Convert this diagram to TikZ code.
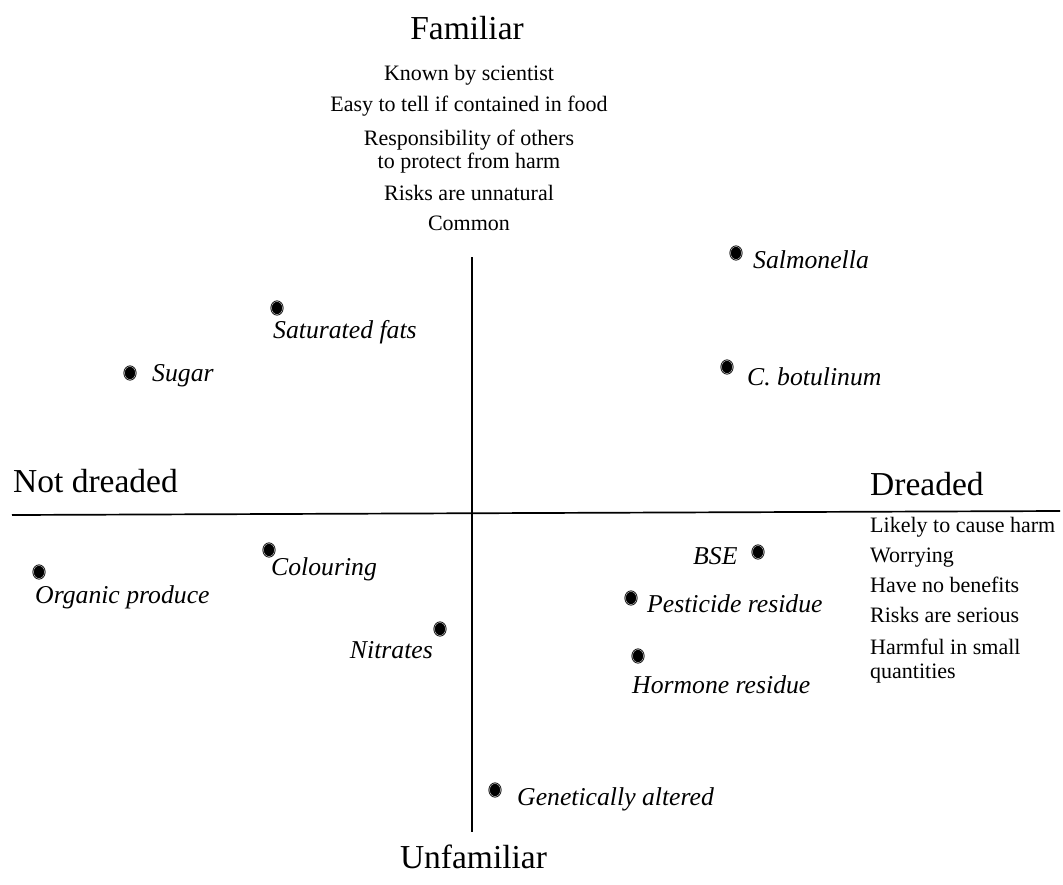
\documentclass[tikz,border=0pt]{standalone}
\usepackage{fontspec}
\setmainfont{Liberation Serif}
\usetikzlibrary{shapes.geometric}
\begin{document}
\begin{tikzpicture}[x=1pt,y=-1pt,
  axislabel/.style={font=\fontsize{33.5}{40}\selectfont, inner sep=0pt, anchor=base},
  note/.style={font=\fontsize{22}{26}\selectfont, inner sep=0pt, anchor=base},
  sidenote/.style={note, anchor=base west},
  item/.style={font=\fontsize{25.7}{30}\selectfont\itshape, inner sep=0pt, anchor=base west},
  riskdot/.style={shape=ellipse, minimum width=11pt, minimum height=13pt, inner sep=0pt,
    fill=black, draw=black, line width=0.8pt, double=gray!45, double distance=0.5pt},
  axisline/.style={line width=1.7pt, black}]
\useasboundingbox (0,0) rectangle (1063,884);

% axes
\coordinate (vtop) at (472,257);
\coordinate (vbot) at (472,832);
\coordinate (hleft) at (12,515);
\coordinate (hright) at (1060,511);
\draw[axisline] (vtop) -- (vbot);
\draw[axisline] (hleft) -- (hright);

% vertical axis: familiar / unfamiliar
\node[axislabel] (familiar) at (467,39) {Familiar};
\node[note] (f1) at (469,80) {Known by scientist};
\node[note] (f2) at (469,111) {Easy to tell if contained in food};
\node[note] (f3) at (469,145) {Responsibility of others};
\node[note] (f4) at (469,168) {to protect from harm};
\node[note] (f5) at (469,200) {Risks are unnatural};
\node[note] (f6) at (469,230) {Common};
\node[axislabel] (unfamiliar) at (473.5,868) {Unfamiliar};

% horizontal axis: not dreaded / dreaded
\node[axislabel, anchor=base west] (notdreaded) at (13,492) {Not dreaded};
\node[axislabel, anchor=base west] (dreaded) at (870,495) {Dreaded};
\node[sidenote] (d1) at (870,532) {Likely to cause harm};
\node[sidenote] (d2) at (870,562) {Worrying};
\node[sidenote] (d3) at (870,592) {Have no benefits};
\node[sidenote] (d4) at (870,622) {Risks are serious};
\node[sidenote] (d5) at (870,654) {Harmful in small};
\node[sidenote] (d6) at (870,678) {quantities};

% food hazards
\node[riskdot] (salmonellaDot) at (736,253) {};
\node[item] (salmonella) at (753,268) {Salmonella};

\node[riskdot] (satfatsDot) at (277,308) {};
\node[item] (satfats) at (273,338) {Saturated fats};

\node[riskdot] (sugarDot) at (130,373) {};
\node[item] (sugar) at (152,381) {Sugar};

\node[riskdot] (botulinumDot) at (727,367) {};
\node[item] (botulinum) at (747,385) {C. botulinum};

\node[riskdot] (bseDot) at (758,552) {};
\node[item] (bse) at (693,564) {BSE};

\node[riskdot] (colouringDot) at (269,550) {};
\node[item] (colouring) at (271,575) {Colouring};

\node[riskdot] (organicDot) at (39,572) {};
\node[item] (organic) at (35,603) {Organic produce};

\node[riskdot] (pesticideDot) at (631,598) {};
\node[item] (pesticide) at (647,612) {Pesticide residue};

\node[riskdot] (nitratesDot) at (440,629) {};
\node[item, anchor=base east] (nitrates) at (433,658) {Nitrates};

\node[riskdot] (hormoneDot) at (638,656) {};
\node[item] (hormone) at (632,693) {Hormone residue};

\node[riskdot] (geneticDot) at (495,790) {};
\node[item] (genetic) at (517,805) {Genetically altered};
\end{tikzpicture}
\end{document}
